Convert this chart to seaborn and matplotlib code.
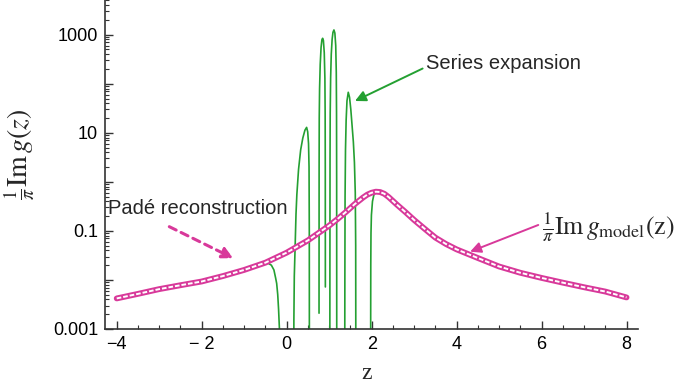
import numpy as np
import pandas as pd
import matplotlib
matplotlib.use("Agg")
import matplotlib.pyplot as plt
import seaborn as sns

# model spectral function 1/pi Im g_model(z)
model_z = [-4.0, -3.5, -3.0, -2.5, -2.0, -1.5, -1.0, -0.5, 0.0, 0.5, 1.0, 1.2, 1.4, 1.6,
           1.8, 1.9, 2.0, 2.1, 2.2, 2.3, 2.4, 2.6, 2.8, 3.0, 3.25, 3.5, 3.75, 4.0, 4.5,
           5.0, 5.5, 6.0, 6.5, 7.0, 7.5, 8.0]
model_v = [0.0042, 0.0052, 0.0065, 0.0078, 0.0093, 0.0120, 0.0160, 0.0225, 0.036, 0.064,
           0.128, 0.175, 0.245, 0.35, 0.48, 0.55, 0.60, 0.63, 0.62, 0.57, 0.49, 0.34,
           0.24, 0.167, 0.11, 0.073, 0.054, 0.042, 0.028, 0.0188, 0.0140, 0.0110,
           0.0088, 0.0071, 0.0058, 0.0044]

# series expansion: positive lobes only (negative parts drop off the log axis)
lobe1_z = [-0.6, -0.44, -0.36, -0.30, -0.26, -0.235, -0.21, -0.19, -0.17, -0.16]
lobe1_v = [0.0205, 0.022, 0.020, 0.016, 0.011, 0.0085, 0.005, 0.0025, 0.001, 1e-5]
lobe2_z = [0.165, 0.17, 0.18, 0.20, 0.22, 0.24, 0.28, 0.33, 0.38, 0.43, 0.47, 0.495,
           0.515, 0.527, 0.533, 0.536]
lobe2_v = [1e-5, 0.0015, 0.012, 0.05, 0.22, 0.55, 1.8, 4.5, 7.8, 11.3, 12.9, 10.5, 6.0,
           2.0, 0.1, 1e-5]
lobe3_z = [0.762, 0.764, 0.767, 0.775, 0.79, 0.81, 0.83, 0.847, 0.865, 0.885, 0.90,
           0.906, 0.909, 0.911]
lobe3_v = [0.0021, 2, 20, 80, 250, 550, 790, 845, 760, 430, 130, 25, 2, 0.0072]
lobe4_z = [1.015, 1.018, 1.021, 1.025, 1.035, 1.05, 1.07, 1.09, 1.113, 1.135, 1.155,
           1.168, 1.174, 1.177, 1.18]
lobe4_v = [1e-5, 0.02, 3, 25, 130, 400, 800, 1120, 1250, 1080, 600, 170, 25, 1, 1e-5]
lobe5_z = [1.365, 1.37, 1.375, 1.385, 1.40, 1.42, 1.45, 1.48, 1.51, 1.54, 1.57, 1.595,
           1.615, 1.625, 1.63]
lobe5_v = [1e-5, 0.01, 0.5, 4.5, 18, 45, 67, 53, 30, 14, 6.5, 2.5, 0.6, 0.05, 1e-5]
lobe6_z = [1.975, 1.978, 1.98, 1.985, 1.995, 2.02, 2.05, 2.08, 2.12]
lobe6_v = [1e-5, 0.002, 0.02, 0.09, 0.21, 0.40, 0.53, 0.60, 0.63]

x_ticks = [-4, -2, 0, 2, 4, 6, 8]
x_labels = ["\u22124", "\u2212 2", "0", "2", "4", "6", "8"]
y_ticks = [1e-3, 1e-2, 1e-1, 1, 10, 100, 1000]
y_labels = ["0.001", "", "0.1", "", "10", "", "1000"]

MAGENTA = "#d8399a"
GREEN = "#24a032"

sns.set_theme(style="ticks")
plt.rcParams["font.family"] = ["Liberation Sans", "DejaVu Sans"]
plt.rcParams["mathtext.fontset"] = "stix"

fig = plt.figure(figsize=(6.75, 3.87), dpi=100)
ax = fig.add_axes([0.1556, 0.1499, 0.7896, 0.8501])
ax.set_yscale("log")

lobes = [(lobe1_z, lobe1_v), (lobe2_z, lobe2_v), (lobe3_z, lobe3_v),
         (lobe4_z, lobe4_v), (lobe5_z, lobe5_v), (lobe6_z, lobe6_v)]
for lz, lv in lobes:
    sns.lineplot(x=lz, y=lv, ax=ax, color=GREEN, lw=1.2, sort=False, zorder=2)

model = pd.DataFrame({"z": model_z, "v": model_v})
sns.lineplot(data=model, x="z", y="v", ax=ax, color=MAGENTA, lw=4.2, zorder=3,
             solid_capstyle="round")
sns.lineplot(data=model, x="z", y="v", ax=ax, color="white", lw=1.4, zorder=4,
             linestyle=(0, (2.4, 1.0)))

ax.set_xlim(-4.275, 8.27)
ax.set_ylim(1e-3, 5100)

ax.set_xticks(x_ticks)
ax.set_xticklabels(x_labels)
ax.set_xticks(np.arange(-4, 8.01, 0.5), minor=True)
ax.set_yticks(y_ticks)
ax.set_yticklabels(y_labels)
ax.yaxis.set_minor_locator(matplotlib.ticker.LogLocator(base=10, subs=np.arange(2, 10)))
ax.yaxis.set_minor_formatter(matplotlib.ticker.NullFormatter())

ax.tick_params(which="both", direction="in", color="#333333", labelsize=13,
               labelcolor="black")
ax.tick_params(which="major", length=6, width=1.0, pad=5)
ax.tick_params(which="minor", length=3, width=0.8)

sns.despine(ax=ax)
for side in ["left", "bottom"]:
    ax.spines[side].set_color("#333333")
    ax.spines[side].set_linewidth(1.2)

ax.set_xlabel("z", fontfamily="Liberation Serif", fontsize=17, va="center")
ax.xaxis.set_label_coords(0.491, -0.134)
ax.set_ylabel(r"$\frac{1}{\pi}\mathrm{Im}\,g(z)$", fontsize=20)
ax.yaxis.set_label_coords(-0.128, 0.53)

# annotations (axes fraction coordinates)
ax.annotate("Series expansion", xy=(0.469, 0.693), xytext=(0.602, 0.808),
            xycoords="axes fraction", textcoords="axes fraction",
            fontsize=14.5, ha="left", va="center",
            arrowprops=dict(arrowstyle="-|>", color=GREEN, lw=1.4,
                            mutation_scale=16, shrinkA=0, shrinkB=0,
                            relpos=(0, 0.3)))
ax.text(0.0056, 0.367, "Padé reconstruction", transform=ax.transAxes,
        fontsize=14.5, ha="left", va="center")
ax.annotate("", xy=(0.2407, 0.215), xytext=(0.1206, 0.311),
            xycoords="axes fraction", textcoords="axes fraction",
            arrowprops=dict(arrowstyle="-|>", color=MAGENTA, lw=2.2,
                            linestyle=(0, (2.5, 1.8)), mutation_scale=16,
                            shrinkA=0, shrinkB=0))
ax.annotate(r"$\frac{1}{\pi}\mathrm{Im}\,g_{\mathrm{model}}(\mathrm{z})$",
            xy=(0.685, 0.235), xytext=(0.819, 0.310),
            xycoords="axes fraction", textcoords="axes fraction",
            fontsize=18.5, ha="left", va="center", annotation_clip=False,
            arrowprops=dict(arrowstyle="-|>", color=MAGENTA, lw=1.4,
                            mutation_scale=16, shrinkA=0, shrinkB=0,
                            relpos=(0, 0.6)))

fig.savefig("out.png", dpi=100)
plt.close(fig)
